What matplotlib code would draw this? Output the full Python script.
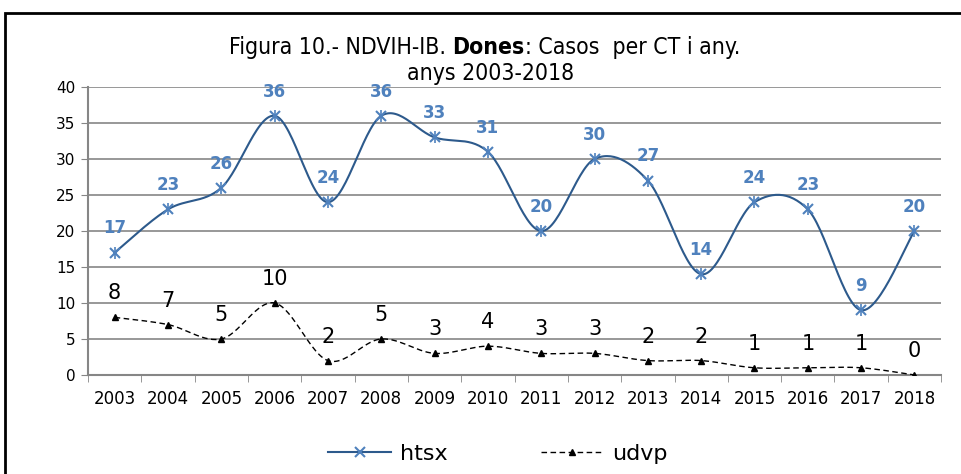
import numpy as np
import matplotlib
matplotlib.use('Agg')
import matplotlib.pyplot as plt
from matplotlib.lines import Line2D
from matplotlib.patches import Rectangle

years = ['2003', '2004', '2005', '2006', '2007', '2008', '2009', '2010',
         '2011', '2012', '2013', '2014', '2015', '2016', '2017', '2018']
htsx = [17, 23, 26, 36, 24, 36, 33, 31, 20, 30, 27, 14, 24, 23, 9, 20]
udvp = [8, 7, 5, 10, 2, 5, 3, 4, 3, 3, 2, 2, 1, 1, 1, 0]

blue_line = '#2D5A8C'
blue_mark = '#4F81BD'


def smooth(y, n=30):
    """catmull-rom curve through the points, like the spreadsheet smooth line"""
    y = np.asarray(y, float)
    x = np.arange(len(y), dtype=float)
    px = np.concatenate([[x[0]], x, [x[-1]]])
    py = np.concatenate([[y[0]], y, [y[-1]]])
    xs, ys = [], []
    for i in range(1, len(px) - 2):
        p0, p1, p2, p3 = px[i-1], px[i], px[i+1], px[i+2]
        q0, q1, q2, q3 = py[i-1], py[i], py[i+1], py[i+2]
        t = np.linspace(0, 1, n, endpoint=False)
        # bezier control points
        c1x, c1y = p1 + (p2 - p0) / 6, q1 + (q2 - q0) / 6
        c2x, c2y = p2 - (p3 - p1) / 6, q2 - (q3 - q1) / 6
        b0 = (1-t)**3; b1 = 3*(1-t)**2*t; b2 = 3*(1-t)*t**2; b3 = t**3
        xs.append(b0*p1 + b1*c1x + b2*c2x + b3*p2)
        ys.append(b0*q1 + b1*c1y + b2*c2y + b3*q2)
    xs.append([x[-1]]); ys.append([y[-1]])
    return np.concatenate(xs), np.concatenate(ys)


fig = plt.figure(figsize=(9.61, 4.74), dpi=100)
ax = fig.add_axes([0.0916, 0.2089, 0.8877, 0.6076])

x = np.arange(len(years))
sx, sy = smooth(htsx)
ax.plot(sx, sy, color=blue_line, lw=1.5, zorder=3)
ax.plot(x, htsx, ls='none', marker='x', ms=7, mew=1.5, color=blue_mark, zorder=4)
ax.plot(x, htsx, ls='none', marker='|', ms=8, mew=1.2, color=blue_mark, zorder=4)
ux, uy = smooth(udvp)
ax.plot(ux, uy, color='black', lw=1.0, ls=(0, (4, 2.5)), zorder=3)
ax.plot(x, udvp, ls='none', marker='^', ms=5, color='black', zorder=4)

for i in range(len(years)):
    ax.annotate(str(htsx[i]), (x[i], htsx[i]), xytext=(0, 11), textcoords='offset points',
                ha='center', va='bottom', color=blue_mark, fontsize=12, fontweight='bold')
    ax.annotate(str(udvp[i]), (x[i], udvp[i]), xytext=(0, 10), textcoords='offset points',
                ha='center', va='bottom', color='black', fontsize=15)

ax.set_xlim(-0.5, len(years) - 0.5)
ax.set_ylim(0, 40)
ax.set_yticks(range(0, 41, 5))
ax.set_xticks(x)
ax.set_xticklabels(years)
ax.set_xticks(np.arange(-0.5, len(years)), minor=True)
ax.tick_params(axis='x', which='major', length=0, pad=11, labelsize=12)
ax.tick_params(axis='x', which='minor', length=5, color='#868686', direction='out')
ax.tick_params(axis='y', length=5, color='#868686', labelsize=11, pad=4)
ax.grid(axis='y', color='#868686', lw=1.2)
ax.set_axisbelow(True)
for s in ['top', 'right']:
    ax.spines[s].set_visible(False)
for s in ['left', 'bottom']:
    ax.spines[s].set_color('#868686')
    ax.spines[s].set_linewidth(1.5)

# title in three pieces so only "Dones" is bold
tkw = dict(fontsize=16.5, family='DejaVu Sans', stretch='condensed', va='baseline')
t1 = fig.text(229/961, 1 - 54/474, 'Figura 10.- NDVIH-IB. ', ha='left', **tkw)
t2 = fig.text(0, 0, 'Dones', fontweight='bold', ha='left', **tkw)
t3 = fig.text(0, 0, ': Casos  per CT i any.', ha='left', **tkw)
fig.canvas.draw()
r = fig.canvas.get_renderer()
bb = t1.get_window_extent(r)
t2.set_position((bb.x1 / fig.bbox.width, 1 - 54/474))
bb = t2.get_window_extent(r)
t3.set_position((bb.x1 / fig.bbox.width, 1 - 54/474))
fig.text(0.51, 0.845, 'anys 2003-2018', ha='center', va='center', fontsize=16.5,
         family='DejaVu Sans', stretch='condensed')

handles = [Line2D([], [], color=blue_line, lw=1.5, marker='x', mec=blue_mark, ms=7, mew=1.5),
           Line2D([], [], color='black', lw=1.0, ls=(0, (4, 2.5)), marker='^', ms=5)]
fig.legend(handles, ['htsx', 'udvp'], loc='center', bbox_to_anchor=(0.518, 0.043),
           ncol=2, frameon=False, fontsize=16, handlelength=2.8, columnspacing=4.2,
           handletextpad=0.4)

fig.patches.append(Rectangle((5/961, -0.1), 1.2, 1.1 - 13/474, transform=fig.transFigure,
                             fill=False, ec='black', lw=2))

fig.savefig('out.png', dpi=100)
